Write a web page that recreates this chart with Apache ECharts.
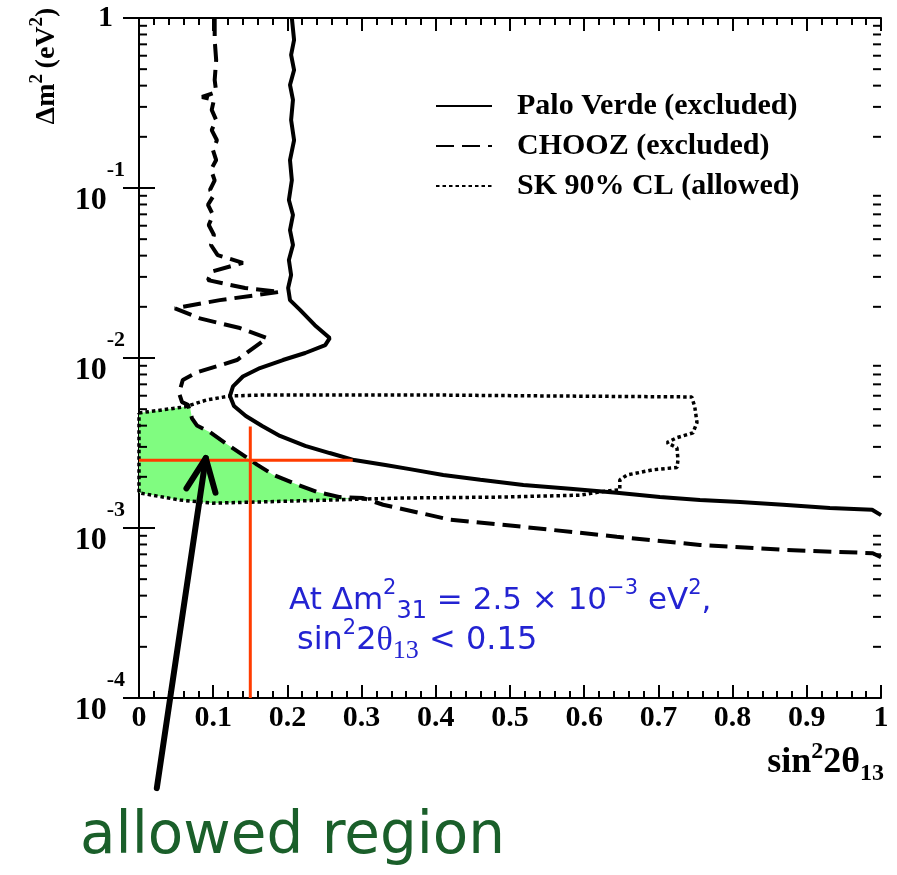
<!DOCTYPE html>
<html>
<head>
<meta charset="utf-8">
<script src="https://cdn.jsdelivr.net/npm/echarts@6/dist/echarts.min.js"></script>
<style>
  html, body { margin: 0; padding: 0; background: #fff; }
  #chart { width: 897px; height: 875px; }
</style>
</head>
<body>
<div id="chart"></div>
<script>
// Palo Verde (solid) excluded contour
const pvX = [0.206, 0.209, 0.205, 0.209, 0.2035, 0.2075, 0.205, 0.209, 0.2035, 0.206, 0.202, 0.2075, 0.2035, 0.2075, 0.202, 0.205, 0.201, 0.2035,
  0.217, 0.237, 0.257, 0.251, 0.224, 0.194, 0.163, 0.140, 0.1267, 0.1226, 0.128, 0.144, 0.166, 0.190, 0.224, 0.257, 0.290,
  0.332, 0.365, 0.410, 0.460, 0.518, 0.581, 0.644, 0.702, 0.756, 0.810, 0.868, 0.931, 0.988, 1.0];
const pvY = [1, 0.743, 0.606, 0.494, 0.404, 0.330, 0.251, 0.191, 0.146, 0.111, 0.085, 0.0694, 0.0566, 0.0462, 0.0377, 0.0308, 0.0258, 0.0219,
  0.0192, 0.0156, 0.0131, 0.0119, 0.0107, 0.00973, 0.00873, 0.00778, 0.00681, 0.00598, 0.00522, 0.00456, 0.00398, 0.00348, 0.00304, 0.00276, 0.00251,
  0.00235, 0.00222, 0.00205, 0.00192, 0.00179, 0.00170, 0.00161, 0.00152, 0.00146, 0.00142, 0.00137, 0.00131, 0.00128, 0.00119];

// CHOOZ (dashed) excluded contour
const chX = [0.102, 0.102, 0.104, 0.102, 0.104, 0.085, 0.101, 0.098, 0.104, 0.098, 0.105, 0.0997, 0.104, 0.097, 0.102, 0.0957, 0.101, 0.093,
  0.0997, 0.094, 0.101, 0.097, 0.106, 0.140, 0.098, 0.093, 0.143, 0.190, 0.109, 0.0485, 0.082, 0.136, 0.1725, 0.132, 0.105, 0.078,
  0.059, 0.054, 0.058, 0.066, 0.0714, 0.078, 0.0957, 0.1186, 0.1456, 0.159, 0.1806, 0.213, 0.240, 0.271, 0.302, 0.329, 0.392,
  0.419, 0.523, 0.644, 0.756, 0.868, 0.989, 1.0];
const chY = [1, 0.743, 0.566, 0.432, 0.367, 0.343, 0.330, 0.288, 0.251, 0.219, 0.191, 0.167, 0.146, 0.128, 0.111, 0.0974, 0.0910, 0.0796,
  0.0694, 0.0606, 0.0529, 0.0462, 0.0403, 0.0363, 0.0322, 0.0287, 0.0258, 0.0245, 0.0219, 0.0196, 0.0171, 0.0150, 0.0131, 0.00973, 0.00894, 0.00823,
  0.00743, 0.00621, 0.00550, 0.00531, 0.00442, 0.00401, 0.00366, 0.00311, 0.00259, 0.00236, 0.00206, 0.00180, 0.00163, 0.00152, 0.00150, 0.00137, 0.00119,
  0.00112, 0.00101, 0.000889, 0.000795, 0.000744, 0.000711, 0.000673];

// SK 90% CL (dotted) allowed contour, closed
const skX = [0, 0.062, 0.0916, 0.1226, 0.167, 0.392, 0.554, 0.745, 0.749, 0.752, 0.7466, 0.725, 0.7116, 0.725, 0.7264, 0.725, 0.6927, 0.6577,
  0.648, 0.648, 0.621, 0.594, 0.4865, 0.352, 0.302, 0.257, 0.0997, 0.0553, 0, 0];
const skY = [0.00475, 0.00516, 0.00567, 0.00598, 0.00606, 0.00606, 0.00598, 0.00590, 0.00516, 0.00417, 0.00363, 0.00340, 0.00318, 0.00296, 0.00251, 0.00227, 0.00220, 0.00205,
  0.00192, 0.00168, 0.00163, 0.00156, 0.00152, 0.00150, 0.00148, 0.00146, 0.00140, 0.00146, 0.00161, 0.00475];

// shaded allowed region
const allowedX = [0, 0.062, 0.0687, 0.0714, 0.078, 0.0957, 0.1186, 0.1456, 0.159, 0.1806, 0.213, 0.240, 0.271, 0.287, 0.257, 0.0997, 0.0553, 0];
const allowedY = [0.00475, 0.00516, 0.00516, 0.00442, 0.00401, 0.00366, 0.00311, 0.00259, 0.00236, 0.00206, 0.00180, 0.00163, 0.00152, 0.00148, 0.00146, 0.00140, 0.00146, 0.00161];

// red cross hair at dm2 = 2.5e-3, sin2 = 0.15
const crossHX = [0, 0.288];
const crossHY = [2.5e-3, 2.5e-3];
const crossVX = [0.15, 0.15];
const crossVY = [1e-4, 3.95e-3];

// arrow pointing into the allowed region (tail, tip)
const arrowFrom = [0.024, 2.95e-5];
const arrowTo = [0.090, 2.58e-3];

// log minor ticks
const minorMult = [2, 3, 4, 5, 6, 7, 8, 9];
const decades = [1e-4, 1e-3, 1e-2, 1e-1];

const SERIF = '"Liberation Serif", "DejaVu Serif", serif';
const SANS = '"DejaVu Sans", "Noto Sans", sans-serif';
const BLUE = '#2323d2';

const zip = (xs, ys) => xs.map((x, i) => [x, ys[i]]);

const minorTicks = [];
decades.forEach(d => minorMult.forEach(m => minorTicks.push([0, d * m])));

const chart = echarts.init(document.getElementById('chart'));

const xAxisBase = {
  type: 'value', min: 0, max: 1, interval: 0.1,
  axisLine: { lineStyle: { color: '#000', width: 2 } },
  axisTick: { inside: true, length: 13, lineStyle: { color: '#000', width: 2 } },
  minorTick: { show: true, splitNumber: 5, length: 7, lineStyle: { color: '#000', width: 2 } },
  splitLine: { show: false }
};
const yAxisBase = {
  type: 'log', logBase: 10, min: 1e-4, max: 1,
  axisLine: { lineStyle: { color: '#000', width: 2 } },
  axisTick: { inside: true, length: 16, lineStyle: { color: '#000', width: 2 } },
  splitLine: { show: false }
};

const option = {
  animation: false,
  backgroundColor: '#fff',
  grid: { left: 139, top: 18, width: 742, height: 680 },
  legend: {
    orient: 'vertical', left: 430, top: 86, itemWidth: 56, itemHeight: 14, itemGap: 10,
    data: ['Palo Verde (excluded)', 'CHOOZ (excluded)', 'SK 90% CL (allowed)'],
    itemStyle: { opacity: 0 },
    textStyle: { fontFamily: SERIF, fontWeight: 'bold', fontSize: 30, color: '#000', padding: [0, 0, 0, 20] }
  },
  xAxis: [
    Object.assign({}, xAxisBase, {
      position: 'bottom',
      axisLabel: { fontFamily: SERIF, fontWeight: 'bold', fontSize: 30, color: '#000', margin: 5 }
    }),
    Object.assign({}, xAxisBase, { position: 'top', axisLabel: { show: false } })
  ],
  yAxis: [
    Object.assign({}, yAxisBase, {
      position: 'left',
      axisLabel: {
        margin: 14,
        formatter: v => {
          const e = Math.round(Math.log10(v));
          return e === 0 ? '{one|1}' : '{b|10}{s|' + e + '}';
        },
        rich: {
          b: { fontFamily: SERIF, fontWeight: 'bold', fontSize: 32, color: '#000', padding: [26, 0, 0, 0] },
          s: { fontFamily: SERIF, fontWeight: 'bold', fontSize: 22, color: '#000', verticalAlign: 'top', lineHeight: 22 },
          one: { fontFamily: SERIF, fontWeight: 'bold', fontSize: 30, color: '#000', padding: [0, 12, 0, 0] }
        }
      }
    }),
    Object.assign({}, yAxisBase, { position: 'right', axisLabel: { show: false } })
  ],
  graphic: [
    {
      type: 'text', x: 47, y: 66, rotation: Math.PI / 2,
      style: {
        text: '{n|\u0394m}{s|2}{n|\u2009(eV}{s|2}{n|)}', align: 'center', verticalAlign: 'middle',
        rich: {
          n: { fontFamily: SERIF, fontWeight: 'bold', fontSize: 28, fill: '#000', lineHeight: 38 },
          s: { fontFamily: SERIF, fontWeight: 'bold', fontSize: 19, fill: '#000', lineHeight: 19, verticalAlign: 'top' }
        }
      }
    },
    {
      type: 'text', x: 884, y: 763,
      style: {
        text: '{n|sin}{s|2}{n|2\u03b8}{u|13}', align: 'right', verticalAlign: 'middle',
        rich: {
          n: { fontFamily: SERIF, fontWeight: 'bold', fontSize: 36, fill: '#000', lineHeight: 46 },
          s: { fontFamily: SERIF, fontWeight: 'bold', fontSize: 24, fill: '#000', lineHeight: 24, verticalAlign: 'top' },
          u: { fontFamily: SERIF, fontWeight: 'bold', fontSize: 24, fill: '#000', lineHeight: 24, verticalAlign: 'bottom' }
        }
      }
    },
    {
      type: 'text', x: 289, y: 601,
      style: {
        text: '{n|At \u0394m}{s|2}{u|31}{n| = 2.5 \u00d7 10}{s|\u22123}{n| eV}{s|2}{n|,}', align: 'left', verticalAlign: 'middle',
        rich: {
          n: { fontFamily: SANS, fontSize: 31, fill: BLUE, lineHeight: 46 },
          s: { fontFamily: SANS, fontSize: 21, fill: BLUE, lineHeight: 24, verticalAlign: 'top' },
          u: { fontFamily: SANS, fontSize: 24, fill: BLUE, lineHeight: 24, verticalAlign: 'bottom' }
        }
      }
    },
    {
      type: 'text', x: 297, y: 641,
      style: {
        text: '{n|sin}{s|2}{n|2}{t|\u03b8}{u|13}{n| < 0.15}', align: 'left', verticalAlign: 'middle',
        rich: {
          n: { fontFamily: SANS, fontSize: 32, fill: BLUE, lineHeight: 46 },
          t: { fontFamily: SERIF, fontSize: 34, fill: BLUE, lineHeight: 46 },
          s: { fontFamily: SANS, fontSize: 21, fill: BLUE, lineHeight: 24, verticalAlign: 'top' },
          u: { fontFamily: SERIF, fontSize: 26, fill: BLUE, lineHeight: 24, verticalAlign: 'bottom' }
        }
      }
    },
    {
      type: 'text', x: 80, y: 838,
      style: { text: 'allowed region', fontFamily: SANS, fontSize: 58, fill: '#1a5f2a', verticalAlign: 'middle' }
    }
  ],
  series: [
    {
      name: 'allowedRegion', type: 'custom', z: 1,
      data: [[allowedX[0], allowedY[0]]],
      renderItem: (params, api) => ({
        type: 'polygon',
        shape: { points: allowedX.map((x, i) => api.coord([x, allowedY[i]])) },
        style: { fill: '#80fc80', stroke: null }
      })
    },
    {
      name: 'minorTicks', type: 'custom', z: 5,
      data: minorTicks,
      renderItem: (params, api) => {
        const l = api.coord([0, api.value(1)]);
        const r = api.coord([1, api.value(1)]);
        const st = { stroke: '#000', lineWidth: 2 };
        return {
          type: 'group',
          children: [
            { type: 'line', shape: { x1: l[0], y1: l[1], x2: l[0] + 8, y2: l[1] }, style: st },
            { type: 'line', shape: { x1: r[0] - 8, y1: r[1], x2: r[0], y2: r[1] }, style: st }
          ]
        };
      }
    },
    {
      name: 'Palo Verde (excluded)', type: 'line', data: zip(pvX, pvY), symbol: 'none', z: 3,
      lineStyle: { color: '#000', width: 4, type: 'solid' }, itemStyle: { color: '#000' }
    },
    {
      name: 'CHOOZ (excluded)', type: 'line', data: zip(chX, chY), symbol: 'none', z: 3,
      lineStyle: { color: '#000', width: 4, type: [18, 8] }, itemStyle: { color: '#000' }
    },
    {
      name: 'SK 90% CL (allowed)', type: 'line', data: zip(skX, skY), symbol: 'none', z: 3,
      lineStyle: { color: '#000', width: 3.5, type: [3.5, 3] }, itemStyle: { color: '#000' }
    },
    {
      name: 'crossH', type: 'line', data: zip(crossHX, crossHY), symbol: 'none', z: 4,
      lineStyle: { color: '#ff3c00', width: 3 }
    },
    {
      name: 'crossV', type: 'line', data: zip(crossVX, crossVY), symbol: 'none', z: 4,
      lineStyle: { color: '#ff3c00', width: 3 }
    },
    {
      name: 'arrow', type: 'custom', z: 6, clip: false,
      data: [[arrowFrom[0], arrowFrom[1], arrowTo[0], arrowTo[1]]],
      encode: { x: [0, 2], y: [1, 3] },
      renderItem: (params, api) => {
        const p0 = api.coord([api.value(0), api.value(1)]);
        const p1 = api.coord([api.value(2), api.value(3)]);
        const a = Math.atan2(p0[1] - p1[1], p0[0] - p1[0]);
        const len = 36, spread = 0.42;
        const arm1 = [p1[0] + len * Math.cos(a + spread), p1[1] + len * Math.sin(a + spread)];
        const arm2 = [p1[0] + len * Math.cos(a - spread), p1[1] + len * Math.sin(a - spread)];
        const st = { stroke: '#000', lineWidth: 6, fill: null, lineCap: 'round', lineJoin: 'round' };
        return {
          type: 'group',
          children: [
            { type: 'line', shape: { x1: p0[0], y1: p0[1], x2: p1[0], y2: p1[1] }, style: st },
            { type: 'polyline', shape: { points: [arm1, p1, arm2] }, style: st }
          ]
        };
      }
    }
  ]
};

chart.setOption(option);
</script>
</body>
</html>
